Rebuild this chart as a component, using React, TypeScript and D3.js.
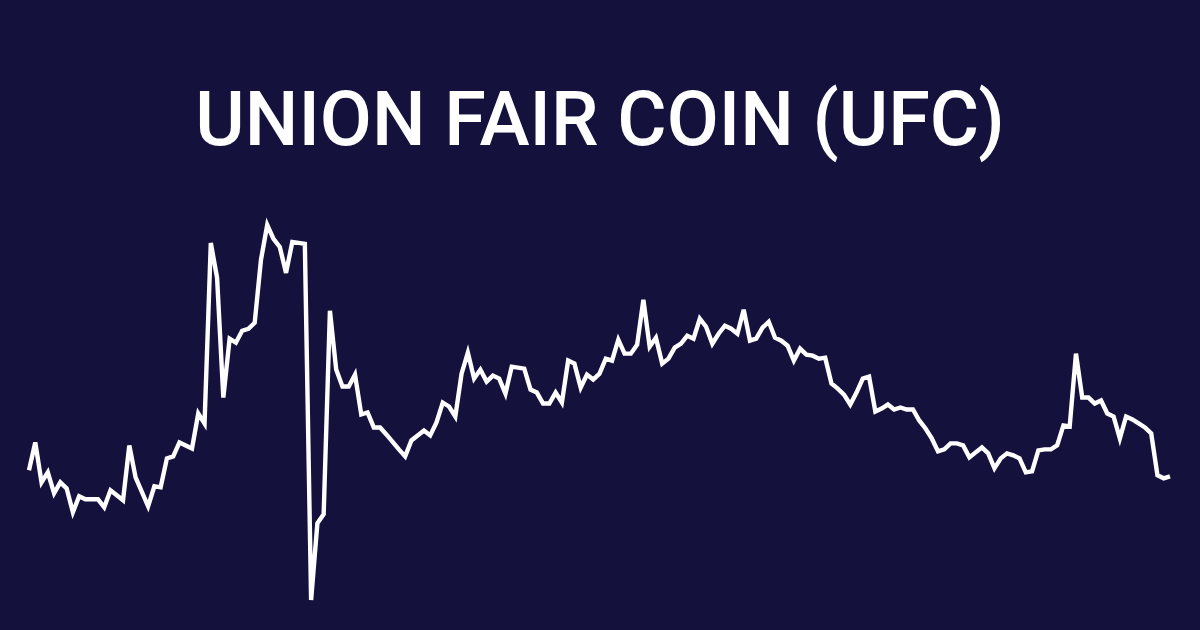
import * as d3 from "d3";

const WIDTH = 1200;
const HEIGHT = 630;
const BACKGROUND = "#15113d";
const TITLE = "UNION FAIR COIN (UFC)";

// days since the start of the window, and price
const days = [
  0, 1, 2, 3, 4, 5, 6, 7, 8, 9, 11, 12, 13, 14, 15, 16, 17, 19, 20, 21,
  22, 23, 24, 26, 27, 28, 29, 30, 31, 32, 33, 34, 35, 36, 37, 38, 39, 40, 41, 42,
  43, 44, 45, 46, 47, 48, 49, 50, 51, 52, 53, 54, 55, 56, 57, 59, 60, 61, 63, 64,
  65, 66, 67, 68, 69, 70, 71, 72, 73, 74, 75, 76, 77, 79, 80, 81, 82, 83, 84, 85,
  86, 87, 88, 89, 90, 91, 92, 93, 94, 95, 96, 97, 98, 99, 100, 101, 102, 103, 104, 105,
  106, 107, 108, 109, 110, 111, 112, 113, 114, 115, 116, 117, 118, 119, 120, 121, 122, 123, 124, 125,
  126, 127, 128, 129, 130, 131, 132, 133, 134, 135, 136, 137, 138, 139, 140, 141, 142, 143, 144, 145,
  146, 147, 148, 149, 150, 151, 152, 153, 154, 155, 156, 157, 158, 159, 160, 161, 162, 163, 164, 165,
  166, 167, 168, 169, 170, 171, 172, 173, 174, 175, 176, 177, 178, 179, 180, 181, 182,
];

const prices = [
  1.6, 1.88, 1.48, 1.58, 1.37, 1.48, 1.42, 1.18, 1.34, 1.31, 1.31, 1.23, 1.4, 1.35, 1.3, 1.85, 1.53, 1.24, 1.44, 1.43,
  1.72, 1.74, 1.88, 1.82, 2.17, 2.07, 3.88, 3.53, 2.33, 2.92, 2.88, 3.0, 3.02, 3.08, 3.71, 4.06, 3.92, 3.84, 3.58, 3.89,
  3.88, 3.87, 0.3, 1.07, 1.16, 3.2, 2.61, 2.44, 2.44, 2.56, 2.16, 2.18, 2.03, 2.03, 1.96, 1.81, 1.74, 1.9, 2.0, 1.95,
  2.08, 2.28, 2.24, 2.14, 2.57, 2.78, 2.52, 2.61, 2.49, 2.55, 2.52, 2.37, 2.64, 2.62, 2.41, 2.38, 2.27, 2.27, 2.38, 2.28,
  2.7, 2.67, 2.43, 2.56, 2.51, 2.57, 2.72, 2.7, 2.91, 2.77, 2.77, 2.86, 3.31, 2.84, 2.93, 2.67, 2.72, 2.83, 2.87, 2.95,
  2.92, 3.12, 3.04, 2.87, 2.97, 3.05, 3.02, 2.97, 3.21, 2.9, 2.92, 3.03, 3.09, 2.93, 2.9, 2.85, 2.7, 2.82, 2.76, 2.75,
  2.72, 2.73, 2.47, 2.42, 2.36, 2.26, 2.38, 2.52, 2.54, 2.19, 2.22, 2.26, 2.21, 2.23, 2.21, 2.21, 2.1, 2.02, 1.92, 1.79,
  1.81, 1.87, 1.87, 1.85, 1.73, 1.78, 1.83, 1.77, 1.62, 1.72, 1.77, 1.75, 1.72, 1.58, 1.59, 1.8, 1.81, 1.81, 1.85, 2.05,
  2.04, 2.77, 2.33, 2.33, 2.27, 2.3, 2.17, 2.14, 1.92, 2.14, 2.11, 2.07, 2.03, 1.97, 1.55, 1.52, 1.54,
];

const PLOT = { left: 29, right: 1170, top: 225, bottom: 600 };

export default function App() {
  const points: [number, number][] = days.map((d, i) => [d, prices[i]]);

  const x = d3
    .scaleLinear()
    .domain(d3.extent(days) as [number, number])
    .range([PLOT.left, PLOT.right]);

  const y = d3
    .scaleLinear()
    .domain(d3.extent(prices) as [number, number])
    .range([PLOT.bottom, PLOT.top]);

  const linePath = d3
    .line<[number, number]>()
    .x(([d]) => x(d))
    .y(([, p]) => y(p))(points);

  return (
    <svg
      width={WIDTH}
      height={HEIGHT}
      style={{ position: "fixed", left: 0, top: 0, display: "block" }}
    >
      <rect width={WIDTH} height={HEIGHT} fill={BACKGROUND} />
      <text
        x={WIDTH / 2}
        y={145}
        textAnchor="middle"
        fill="#ffffff"
        style={{ fontFamily: "Roboto", fontWeight: 500, fontSize: "75.6px" }}
      >
        {TITLE}
      </text>
      <path
        d={linePath ?? undefined}
        fill="none"
        stroke="#ffffff"
        strokeWidth={4.4}
      />
    </svg>
  );
}
